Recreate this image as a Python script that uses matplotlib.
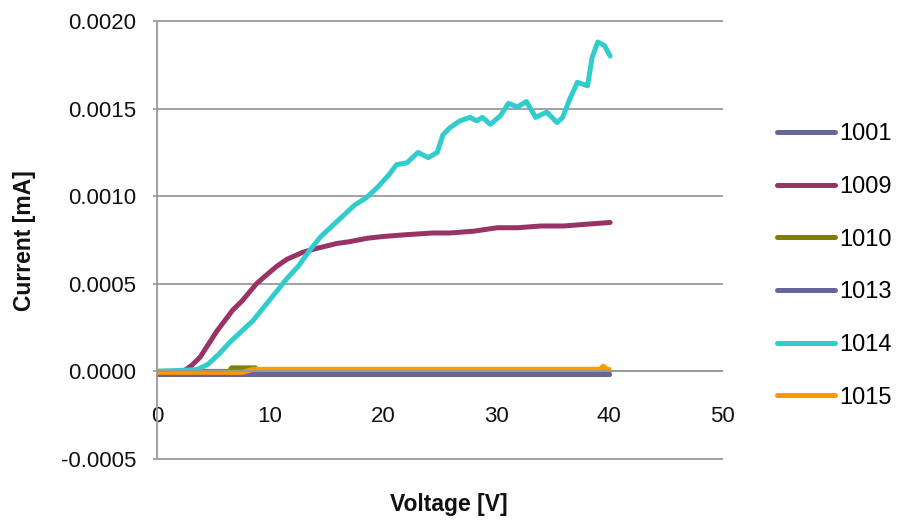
import matplotlib
matplotlib.use('Agg')
import matplotlib.pyplot as plt

plt.rcParams['font.family'] = ['Liberation Sans', 'DejaVu Sans']

# series (voltage [V], current [mA])
v1001 = [0, 40]
i1001 = [-0.000012, -0.000012]

v1009 = [0, 2.3, 3.0, 3.8, 4.5, 5.3, 6.0, 6.7, 7.5, 8.8, 9.5, 10.6, 11.5, 12.9, 14.0,
         15.9, 17.0, 18.6, 20.0, 22.0, 24.4, 25.9, 28.0, 30.1, 31.9, 34.0, 36.0, 38.0, 40.1]
i1009 = [0, 0, 0.00003, 0.00008, 0.00015, 0.00023, 0.00029, 0.00035, 0.00040, 0.00050,
         0.00054, 0.00060, 0.00064, 0.00068, 0.00070, 0.00073, 0.00074, 0.00076, 0.00077,
         0.00078, 0.00079, 0.00079, 0.00080, 0.00082, 0.00082, 0.00083, 0.00083, 0.00084,
         0.00085]

v1010 = [0, 6.4, 6.6, 8.7, 8.9, 40]
i1010 = [0, 0, 0.00002, 0.00002, 0, 0]

v1013 = [0, 40]
i1013 = [-0.000012, -0.000012]

v1014 = [0, 3.5, 4.5, 5.5, 6.5, 7.5, 8.5, 9.5, 10.5, 11.5, 12.5, 13.5, 14.5, 15.5, 16.5,
         17.5, 18.5, 19.5, 20.5, 21.2, 22.1, 23.1, 24.0, 24.8, 25.3, 25.9, 26.8, 27.7,
         28.3, 28.8, 29.5, 30.4, 31.1, 31.9, 32.7, 33.5, 34.5, 35.4, 35.9, 36.5, 37.2,
         38.1, 38.5, 39.0, 39.6, 40.1]
i1014 = [0, 0.00001, 0.00004, 0.00010, 0.00017, 0.00023, 0.00029, 0.00037, 0.00045,
         0.00053, 0.00060, 0.00069, 0.00077, 0.00083, 0.00089, 0.00095, 0.00099, 0.00105,
         0.00112, 0.00118, 0.00119, 0.00125, 0.00122, 0.00125, 0.00135, 0.00139, 0.00143,
         0.00145, 0.00143, 0.00145, 0.00141, 0.00146, 0.00153, 0.00151, 0.00154, 0.00145,
         0.00148, 0.00142, 0.00145, 0.00155, 0.00165, 0.00163, 0.00179, 0.00188, 0.00186,
         0.00180]

v1015 = [0, 7.6, 8.5, 39.2, 39.5, 39.8, 40]
i1015 = [-0.000005, -0.000005, 0.000012, 0.000012, 0.00003, 0.000012, 0.000012]

series = [
    ('1001', v1001, i1001, '#666699'),
    ('1009', v1009, i1009, '#993366'),
    ('1010', v1010, i1010, '#808000'),
    ('1013', v1013, i1013, '#666699'),
    ('1014', v1014, i1014, '#33CCCC'),
    ('1015', v1015, i1015, '#FF9900'),
]

xticks = [0, 10, 20, 30, 40, 50]
yticks = [-0.0005, 0.0, 0.0005, 0.0010, 0.0015, 0.0020]
ytick_labels = ['-0.0005', '0.0000', '0.0005', '0.0010', '0.0015', '0.0020']

fig = plt.figure(figsize=(8.98, 5.2), dpi=100)
ax = fig.add_axes([157 / 898, 1 - 459 / 520, 565 / 898, 438 / 520])

for name, v, i, c in series:
    ax.plot(v, i, color=c, lw=3.6, label=name, solid_capstyle='round')

ax.set_xlim(0, 50)
ax.set_ylim(-0.0005, 0.0020)
ax.set_xticks(xticks)
ax.set_xticklabels([str(t) for t in xticks])
ax.set_yticks(yticks)
ax.set_yticklabels(ytick_labels)

grid_col = '#9a9a9a'
for y in yticks:
    ax.axhline(y, color=grid_col, lw=1.3, zorder=0, clip_on=False)

ax.spines['top'].set_visible(False)
ax.spines['right'].set_visible(False)
ax.spines['bottom'].set_position(('data', 0))
ax.spines['bottom'].set_color(grid_col)
ax.spines['bottom'].set_linewidth(1.3)
ax.spines['left'].set_color(grid_col)
ax.spines['left'].set_linewidth(1.3)

ax.tick_params(axis='x', length=0, pad=25, labelsize=16, labelcolor='#111111')
ax.tick_params(axis='y', length=3, width=1.2, color=grid_col, pad=12, labelsize=16,
               labelcolor='#111111')

fig.text(449 / 898, 1 - 505 / 520, 'Voltage [V]', ha='center', va='center',
         fontsize=16.5, fontweight='bold', color='#111111')
fig.text(25 / 898, 1 - 241 / 520, 'Current [mA]', ha='center', va='center',
         rotation=90, fontsize=16.5, fontweight='bold', color='#111111')

fig.legend(loc='center left', bbox_to_anchor=(777 / 898, 1 - 266 / 520), frameon=False,
           fontsize=17, handlelength=2.45, handletextpad=0.2, labelspacing=1.3,
           borderpad=0, borderaxespad=0)

fig.savefig('out.png', dpi=100)
